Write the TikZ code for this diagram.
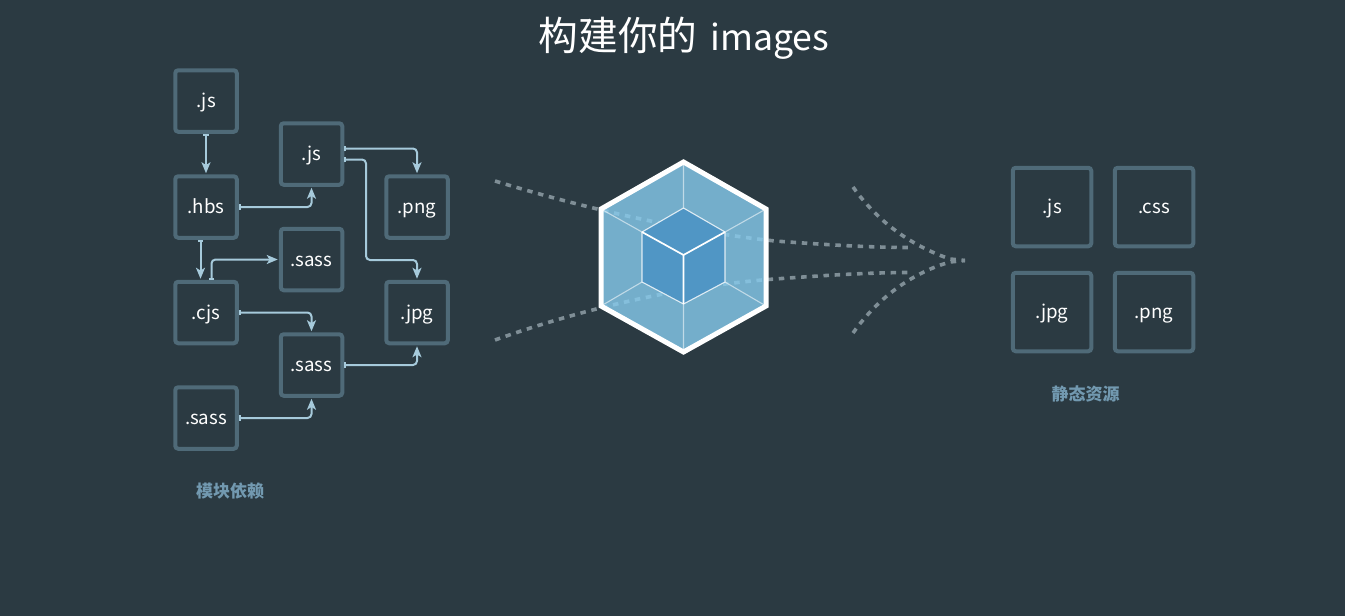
\documentclass[tikz,border=0pt]{standalone}
\usepackage{fontspec}
\setmainfont{Noto Sans CJK SC}
\usetikzlibrary{arrows.meta,calc}
\definecolor{bg}{HTML}{2B3A42}
\definecolor{boxc}{HTML}{4F6A78}
\definecolor{linkc}{HTML}{A6CADB}
\definecolor{dashc}{HTML}{7F8E96}
\definecolor{capc}{HTML}{7299B0}
\definecolor{outerc}{HTML}{87CCEE}
\definecolor{innerc}{HTML}{5096C5}
\tikzset{
  x=1pt,y=-1pt,
  modbox/.style={draw=boxc,line width=4pt,rounded corners=3pt,minimum size=61.5pt,inner sep=0pt,text=white,text height=15pt,text depth=2pt,font=\fontsize{18.7}{22}\selectfont},
  bigbox/.style={modbox,minimum size=78.5pt},
  caption/.style={text=capc,inner sep=0pt,font=\fontsize{17}{20}\selectfont\bfseries},
  link/.style={draw=linkc,line width=2pt,rounded corners=4pt,{Bar[width=5.5pt,length=1.3pt]}-{Stealth[inset=2.8pt,length=11pt,width=9pt]},shorten >=1pt},
  flow/.style={draw=dashc,line width=3.6pt,dash pattern=on 5.5pt off 5.7pt},
  edgeout/.style={draw=white,draw opacity=.55,line width=1.1pt},
  edgein/.style={draw=white,line width=1.7pt,line join=round},
}
\begin{document}
\begin{tikzpicture}
\useasboundingbox[fill=bg] (0,0) rectangle (1345,616);

\node[inner sep=0pt,text=white,font=\fontsize{39.7}{46}\selectfont] (title) at (684,38.5) {构建你的\hspace{13pt}{\fontsize{35.6}{46}\selectfont images}};

% module graph
\node[modbox] (jsa) at (206,101) {.js};
\node[modbox] (jsb) at (311.5,154) {.js};
\node[modbox] (hbs) at (206,207) {.hbs};
\node[modbox] (png) at (417,207) {.png};
\node[modbox] (sassa) at (311.5,259.5) {.sass};
\node[modbox] (cjs) at (206,312.5) {.cjs};
\node[modbox] (jpg) at (417,312.5) {.jpg};
\node[modbox] (sassb) at (311.5,365) {.sass};
\node[modbox] (sassc) at (206,418) {.sass};
\node[caption] (capa) at (230,491) {模块依赖};

\draw[link] (jsa.south) -- (hbs.north);
\draw[link] (hbs.east) -| (jsb.south);
\draw[link] ([xshift=-5.5pt]hbs.south) -- ([xshift=-5.5pt]cjs.north);
\draw[link] ([xshift=5.5pt]cjs.north) |- (sassa.west);
\draw[link] ([yshift=5.5pt]jsb.east) -| (png.north);
\coordinate (bend) at (366,260);
\draw[link] ([yshift=-5.5pt]jsb.east) -| (bend) -| (jpg.north);
\draw[link] (cjs.east) -| (sassb.north);
\draw[link] (sassb.east) -| (jpg.south);
\draw[link] (sassc.east) -| (sassb.south);

% flow lines
\coordinate (fa) at (495,181);
\coordinate (fb) at (495,340);
\coordinate (fc) at (912,247.5);
\coordinate (fd) at (912,272.5);
\coordinate (fe) at (853,187);
\coordinate (ff) at (853,333);
\coordinate (fg) at (965,260.5);
\draw[flow] (fa) .. controls (590,210) and (690,232) .. (775,241) .. controls (830,245) and (870,247.5) .. (fc);
\draw[flow] (fb) .. controls (590,306) and (690,285) .. (775,279) .. controls (830,275) and (870,272.5) .. (fd);
\draw[flow] (fe) .. controls (880,225) and (915,247) .. (950,259) -- (fg);
\draw[flow] (ff) .. controls (880,295) and (915,272) .. (950,262) -- (fg);

% cube
\coordinate (ot) at (683.5,162);
\coordinate (or) at (766,209);
\coordinate (obr) at (766,306);
\coordinate (ob) at (683.5,352);
\coordinate (obl) at (601,306);
\coordinate (ol) at (601,209);
\coordinate (it) at (683.5,208);
\coordinate (ir) at (725,232);
\coordinate (ibr) at (725,282);
\coordinate (ib) at (683.5,304);
\coordinate (ibl) at (642,282);
\coordinate (il) at (642,232);
\coordinate (ic) at (683.5,255);
\fill[outerc,fill opacity=.8] (ot) -- (or) -- (obr) -- (ob) -- (obl) -- (ol) -- cycle;
\fill[innerc] (it) -- (ir) -- (ibr) -- (ib) -- (ibl) -- (il) -- cycle;
\draw[edgeout] (ot) -- (it) (or) -- (ir) (obr) -- (ibr) (ob) -- (ib) (obl) -- (ibl) (ol) -- (il);
\draw[draw=white,draw opacity=.8,line width=1.1pt] (it) -- (ir) (it) -- (il) (ir) -- (ibr) -- (ib) -- (ibl) -- (il);
\draw[edgein] (il) -- (ic) -- (ir) (ic) -- (ib);
\draw[draw=white,line width=5pt,line join=miter] (ot) -- (or) -- (obr) -- (ob) -- (obl) -- (ol) -- cycle;

% output assets
\node[bigbox] (ojs) at (1052,207) {.js};
\node[bigbox] (ocss) at (1154,207) {.css};
\node[bigbox] (ojpg) at (1052,312) {.jpg};
\node[bigbox] (opng) at (1154,312) {.png};
\node[caption] (capb) at (1085.5,394) {静态资源};
\end{tikzpicture}
\end{document}
